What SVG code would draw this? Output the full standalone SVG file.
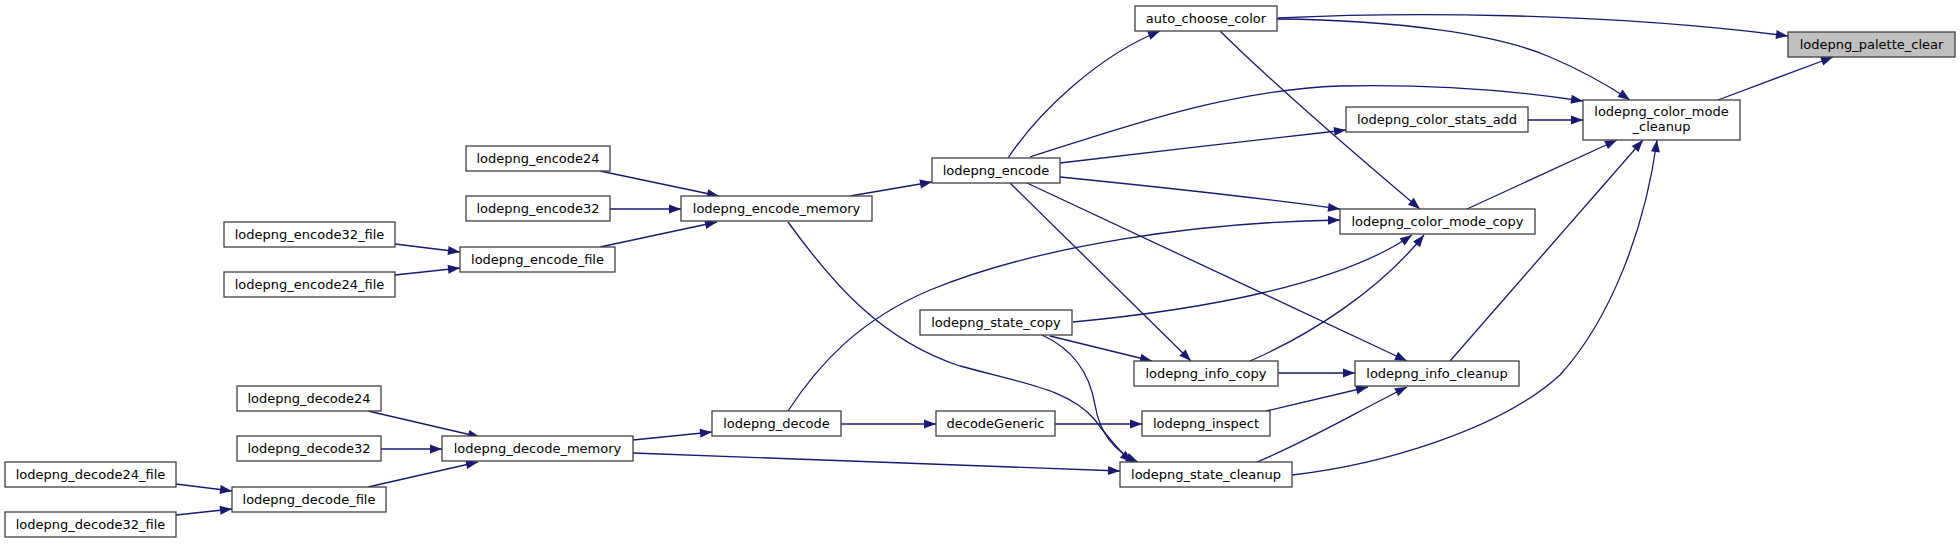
<svg xmlns="http://www.w3.org/2000/svg" width="1960" height="544" viewBox="0 0 1960 544">
<style>
.n rect{fill:#ffffff;stroke:#404040;stroke-width:1.3}
.n.f rect{fill:#bfbfbf}
.n text{font-family:"DejaVu Sans",sans-serif;font-size:13px;fill:#000000;text-anchor:middle}
.e path{fill:none;stroke:#191970;stroke-width:1.3;marker-end:url(#a)}
</style>
<defs>
<marker id="a" markerUnits="userSpaceOnUse" markerWidth="13" markerHeight="10" refX="12" refY="4.5" orient="auto" overflow="visible">
<path d="M0,0 L12,4.5 L0,9 z" fill="#191970"/>
</marker>
</defs>
<rect width="1960" height="544" fill="#ffffff"/>
<g id="edges" class="e">
<path d="M1278,18 C1400,12 1600,12 1788,36"/>
<path d="M1718,100 L1833,57"/>
<path d="M1277,19 C1400,20 1500,35 1550,57 C1590,74 1615,90 1630,100"/>
<path d="M1008,158 C1040,110 1100,55 1160,31"/>
<path d="M1030,157 C1130,125 1230,90 1340,86 C1430,84 1510,90 1583,101"/>
<path d="M1060,163 C1150,152 1260,140 1346,130"/>
<path d="M1528,120 L1583,120"/>
<path d="M1060,177 C1150,186 1260,198 1340,209"/>
<path d="M1220,31 C1280,90 1350,150 1420,209"/>
<path d="M1467,209 L1617,140"/>
<path d="M1450,361 L1643,140"/>
<path d="M1292,475 C1380,465 1500,430 1560,375 C1610,320 1645,230 1657,140"/>
<path d="M1073,322 C1200,310 1340,285 1412,235"/>
<path d="M1250,361 C1310,335 1380,290 1424,235"/>
<path d="M788,411 C820,362 860,320 930,290 C1040,245 1200,222 1340,220"/>
<path d="M1010,183 L1191,361"/>
<path d="M1027,183 L1407,361"/>
<path d="M1050,336 L1152,361"/>
<path d="M1042,335 C1075,350 1090,375 1095,405 C1100,435 1115,452 1138,462"/>
<path d="M788,222 C830,280 880,340 960,366 C1030,385 1070,390 1095,420 C1110,440 1120,452 1132,462"/>
<path d="M1257,462 C1310,440 1360,410 1407,387"/>
<path d="M1266,411 L1368,387"/>
<path d="M1278,373 L1355,373"/>
<path d="M1055,424 L1142,424"/>
<path d="M841,424 L936,424"/>
<path d="M633,440 L712,432"/>
<path d="M633,453 L1120,471"/>
<path d="M850,196 L932,182"/>
<path d="M600,171 L719,196"/>
<path d="M610,209 L681,209"/>
<path d="M600,247 L717,222"/>
<path d="M395,244 L460,252"/>
<path d="M395,275 L460,268"/>
<path d="M368,411 L480,437"/>
<path d="M381,449 L442,449"/>
<path d="M368,487 L478,462"/>
<path d="M176,484 L232,491"/>
<path d="M176,515 L232,509"/>
</g>
<g id="lodepng_palette_clear" class="n f"><rect x="1788" y="32" width="167" height="25"/><text x="1871.5" y="49">lodepng_palette_clear</text></g>
<g id="auto_choose_color" class="n"><rect x="1135" y="6" width="142" height="25"/><text x="1206" y="23">auto_choose_color</text></g>
<g id="lodepng_color_mode_cleanup" class="n"><rect x="1583" y="100" width="157" height="40"/><text x="1661.5" y="115.5">lodepng_color_mode</text><text x="1661.5" y="130.5">_cleanup</text></g>
<g id="lodepng_color_stats_add" class="n"><rect x="1346" y="107" width="182" height="25"/><text x="1437" y="124">lodepng_color_stats_add</text></g>
<g id="lodepng_color_mode_copy" class="n"><rect x="1340" y="209" width="195" height="25"/><text x="1437.5" y="226">lodepng_color_mode_copy</text></g>
<g id="lodepng_encode" class="n"><rect x="932" y="158" width="128" height="25"/><text x="996" y="175">lodepng_encode</text></g>
<g id="lodepng_encode_memory" class="n"><rect x="681" y="196" width="191" height="25"/><text x="776.5" y="213">lodepng_encode_memory</text></g>
<g id="lodepng_encode24" class="n"><rect x="466" y="146" width="144" height="25"/><text x="538" y="163">lodepng_encode24</text></g>
<g id="lodepng_encode32" class="n"><rect x="466" y="196" width="144" height="25"/><text x="538" y="213">lodepng_encode32</text></g>
<g id="lodepng_encode_file" class="n"><rect x="460" y="247" width="155" height="25"/><text x="537.5" y="264">lodepng_encode_file</text></g>
<g id="lodepng_encode32_file" class="n"><rect x="224" y="222" width="171" height="25"/><text x="309.5" y="239">lodepng_encode32_file</text></g>
<g id="lodepng_encode24_file" class="n"><rect x="224" y="272" width="171" height="25"/><text x="309.5" y="289">lodepng_encode24_file</text></g>
<g id="lodepng_state_copy" class="n"><rect x="920" y="310" width="152" height="25"/><text x="996" y="327">lodepng_state_copy</text></g>
<g id="lodepng_info_copy" class="n"><rect x="1134" y="361" width="144" height="25"/><text x="1206" y="378">lodepng_info_copy</text></g>
<g id="lodepng_info_cleanup" class="n"><rect x="1355" y="361" width="164" height="25"/><text x="1437" y="378">lodepng_info_cleanup</text></g>
<g id="lodepng_decode" class="n"><rect x="712" y="411" width="129" height="25"/><text x="776.5" y="428">lodepng_decode</text></g>
<g id="decodeGeneric" class="n"><rect x="936" y="411" width="119" height="25"/><text x="995.5" y="428">decodeGeneric</text></g>
<g id="lodepng_inspect" class="n"><rect x="1142" y="411" width="128" height="25"/><text x="1206" y="428">lodepng_inspect</text></g>
<g id="lodepng_state_cleanup" class="n"><rect x="1120" y="462" width="172" height="25"/><text x="1206" y="479">lodepng_state_cleanup</text></g>
<g id="lodepng_decode24" class="n"><rect x="237" y="386" width="144" height="25"/><text x="309" y="403">lodepng_decode24</text></g>
<g id="lodepng_decode32" class="n"><rect x="237" y="436" width="144" height="25"/><text x="309" y="453">lodepng_decode32</text></g>
<g id="lodepng_decode_memory" class="n"><rect x="442" y="436" width="191" height="25"/><text x="537.5" y="453">lodepng_decode_memory</text></g>
<g id="lodepng_decode_file" class="n"><rect x="232" y="487" width="154" height="25"/><text x="309" y="504">lodepng_decode_file</text></g>
<g id="lodepng_decode24_file" class="n"><rect x="5" y="462" width="171" height="25"/><text x="90.5" y="479">lodepng_decode24_file</text></g>
<g id="lodepng_decode32_file" class="n"><rect x="5" y="512" width="171" height="25"/><text x="90.5" y="529">lodepng_decode32_file</text></g>
</svg>
